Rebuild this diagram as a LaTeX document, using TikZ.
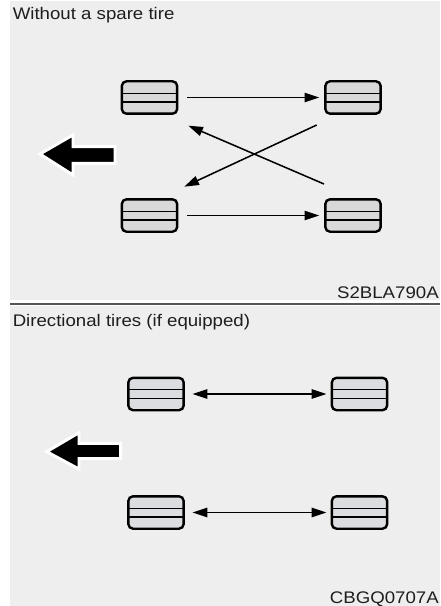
\documentclass[tikz,border=0pt]{standalone}
\usepackage{fontspec}
\setmainfont{Liberation Sans}[FakeStretch=1.11]
\usetikzlibrary{arrows.meta}
\definecolor{panelbg}{RGB}{238,238,238}
\definecolor{tirefill}{RGB}{217,217,217}
\definecolor{tirefillb}{RGB}{220,221,224}
\definecolor{sepline}{RGB}{85,85,85}
\definecolor{txt}{RGB}{30,30,30}
\tikzset{
  tire/.style={draw=black, line width=1.8pt, fill=tirefill, rounded corners=3.5pt,
    minimum width=41.5pt, minimum height=24.3pt, inner sep=0pt,
    path picture={
      \draw[line width=0.9pt] ([yshift=3.2pt]path picture bounding box.west) -- ([yshift=3.2pt]path picture bounding box.east);
      \draw[line width=0.9pt] ([yshift=-3.4pt]path picture bounding box.west) -- ([yshift=-3.4pt]path picture bounding box.east);
    }},
  tireb/.style={tire, fill=tirefillb},
  arr/.style={line width=1.15pt, -{Triangle[length=11pt,width=7pt]}},
  dblarr/.style={line width=1.15pt, {Triangle[length=11pt,width=7pt]}-{Triangle[length=11pt,width=7pt]}},
  bigarrow/.style={draw=white, line width=2.2pt, fill=black, line join=miter},
  title/.style={anchor=base west, inner sep=0pt, text=txt, font=\fontsize{12.6}{15}\selectfont},
  code/.style={anchor=base east, inner sep=0pt, text=txt, font=\fontsize{12.6}{15}\selectfont}
}
\begin{document}
\begin{tikzpicture}[x=0.75pt,y=-0.75pt]
\useasboundingbox (0,0) rectangle (440,606);
\fill[white] (0,0) rectangle (440,606);
\fill[panelbg] (10,1) rectangle (440,299.5);
\fill[panelbg] (10,305.5) rectangle (440,606);
\draw[sepline, line width=1.5pt] (10,303.5) -- (440,303.5);

% ---------- top panel ----------
\node[title] (t1) at (12.5,20) {Without a spare tire};
\node[tire] (TL) at (149.5,97.5) {};
\node[tire] (TR) at (353,97.5) {};
\node[tire] (BL) at (149.5,215.5) {};
\node[tire] (BR) at (353,215.5) {};

\draw[arr, shorten <=6.5pt, shorten >=3.7pt] (TL.east) -- (TR.west);
\draw[arr, shorten <=6.5pt, shorten >=3.7pt] (BL.east) -- (BR.west);
\coordinate (c1s) at (316.7,125);
\coordinate (c1e) at (184.3,186.7);
\coordinate (c2s) at (324,184);
\coordinate (c2e) at (188.3,125.7);
\draw[arr] (c1s) -- (c1e);
\draw[arr] (c2s) -- (c2e);

\draw[bigarrow] (40,154) -- (73,135) -- (73,146.7) -- (115,146.7) -- (115,163.3) -- (73,163.3) -- (73,175) -- cycle;

\node[code] (l1) at (439,298) {S2BLA790A};

% ---------- bottom panel ----------
\node[title] (t2) at (12.5,326) {Directional tires (if equipped)};
\node[tireb] (TL2) at (156,394) {};
\node[tireb] (TR2) at (359.5,394) {};
\node[tireb] (BL2) at (156,512.5) {};
\node[tireb] (BR2) at (359.5,512.5) {};

\draw[dblarr, shorten <=5.8pt, shorten >=3.2pt] (TL2.east) -- (TR2.west);
\draw[dblarr, shorten <=5.8pt, shorten >=3.2pt] (BL2.east) -- (BR2.west);

\draw[bigarrow] (46.7,451.7) -- (79,432.7) -- (79,443.3) -- (120.7,443.3) -- (120.7,458.7) -- (79,458.7) -- (79,469) -- cycle;

\node[code] (l2) at (439,603) {CBGQ0707A};
\end{tikzpicture}
\end{document}
